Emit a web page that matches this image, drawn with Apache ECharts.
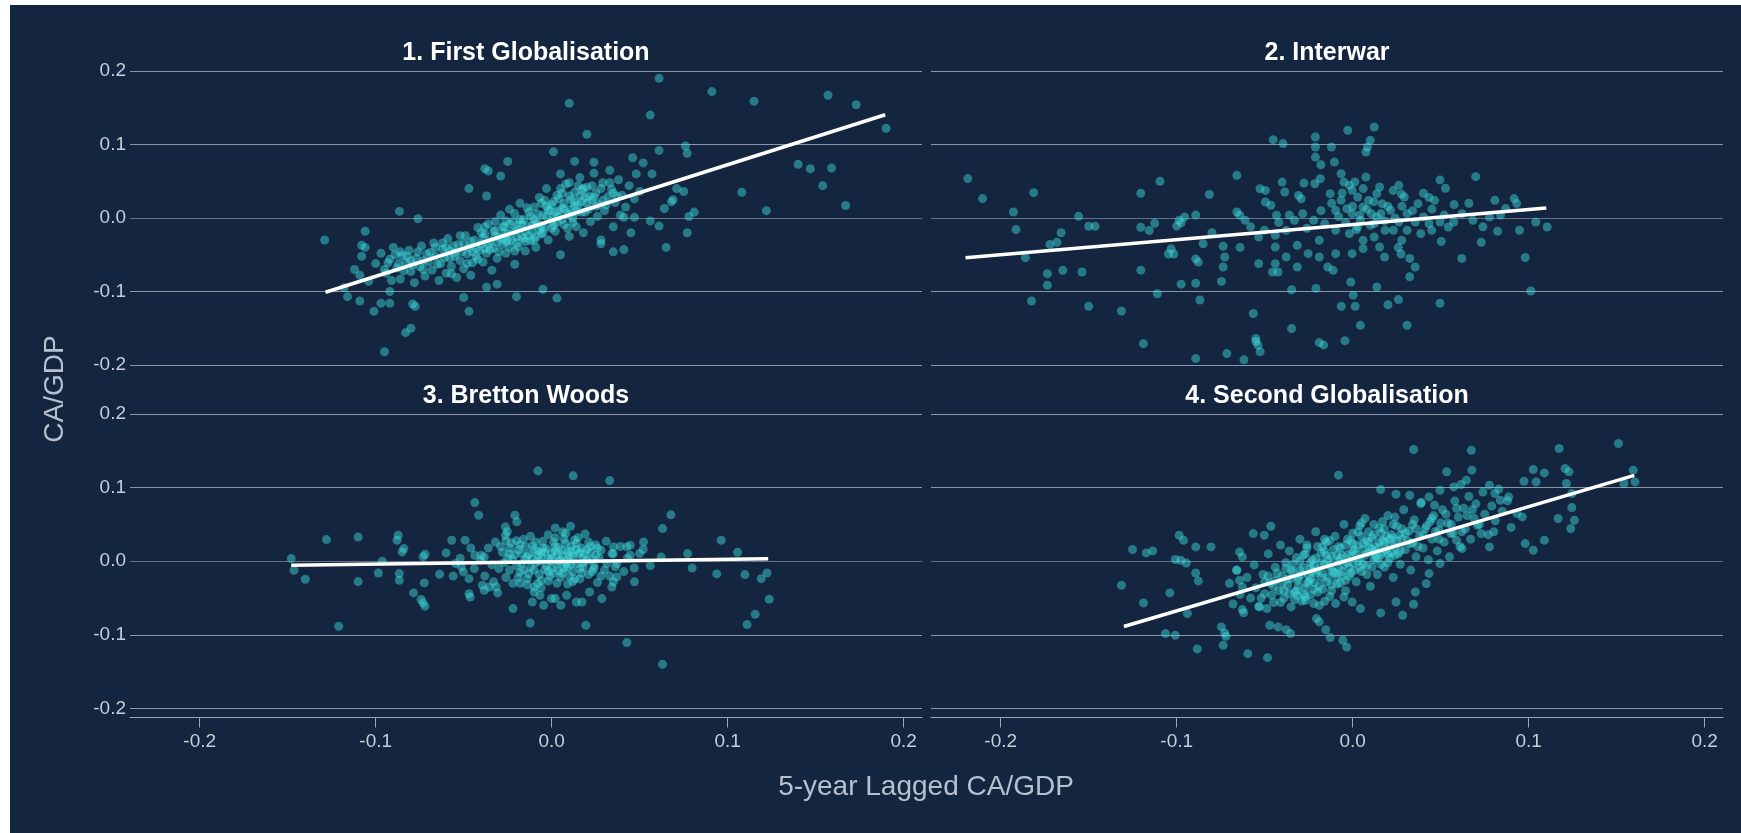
<!DOCTYPE html>
<html>
<head>
<meta charset="utf-8">
<script src="https://cdn.jsdelivr.net/npm/echarts@6.0.0/dist/echarts.min.js"></script>
<style>
  html, body { margin: 0; padding: 0; background: #ffffff; }
  #chart { position: absolute; left: 10px; top: 5px; width: 1731px; height: 828px; background: #13253f; }
</style>
</head>
<body>
<div id="chart"></div>
<script>
// facet titles + shared ticks
var panelTitles = ['1. First Globalisation', '2. Interwar', '3. Bretton Woods', '4. Second Globalisation']
var xTicks = [-0.2, -0.1, 0, 0.1, 0.2]
var xRange = [-0.2396, 0.2104]
var yRange = [-0.2, 0.2]

// [5-year lagged CA/GDP, CA/GDP]
var firstGlob = [
  [-0.129,-0.030],[-0.106,-0.018],[-0.108,-0.037],[-0.109,-0.078],[-0.116,-0.107],[-0.109,-0.113],[-0.101,-0.127],[-0.097,-0.116],
  [-0.092,-0.116],[-0.095,-0.182],[-0.083,-0.156],[-0.080,-0.150],[-0.0865,0.009],[-0.076,-0.001],[-0.079,-0.117],[-0.0775,-0.120],
  [-0.092,-0.100],[-0.047,-0.127],[-0.050,-0.108],[-0.037,-0.094],[-0.031,-0.090],[-0.020,-0.107],[-0.005,-0.097],[0.003,-0.109],
  [-0.047,0.040],[-0.038,0.067],[-0.036,0.064],[-0.029,0.057],[-0.025,0.077],[-0.037,0.030],[0.001,0.090],[0.010,0.156],
  [0.020,0.114],[0.013,0.077],[0.024,0.076],[0.005,0.060],[0.010,0.048],
  [0.061,0.190],[0.091,0.172],[0.115,0.159],[0.157,0.167],[0.173,0.154],[0.190,0.122],[0.056,0.140],[0.061,0.092],
  [0.076,0.098],[0.077,0.088],[0.140,0.073],[0.147,0.067],[0.159,0.068],[0.154,0.044],[0.167,0.017],[0.108,0.035],
  [0.122,0.010],[0.077,-0.020],[0.065,-0.040],[0.035,-0.046],[0.041,-0.043],[0.061,-0.011],[0.056,-0.004],[0.078,0.002],
  [0.081,0.008],[0.068,0.022],[0.069,0.025],[0.071,0.040],[0.075,0.036],[0.064,0.013],[0.047,0.001],[0.041,0.001],
  [0.046,0.082],[0.052,0.075],[0.057,0.060],[0.028,-0.035],
  [-0.112,-0.070],[-0.108,-0.052],[-0.104,-0.086],[-0.118,-0.095],[-0.106,-0.040],
  [-0.100,-0.062],[-0.097,-0.048],[-0.094,-0.075],[-0.092,-0.056],[-0.090,-0.040],[-0.088,-0.068],[-0.086,-0.083],[-0.085,-0.051],
  [-0.083,-0.061],[-0.081,-0.044],[-0.080,-0.073],[-0.078,-0.088],[-0.077,-0.055],[-0.075,-0.066],[-0.074,-0.038],[-0.072,-0.079],
  [-0.071,-0.049],[-0.070,-0.060],
  [-0.068,-0.071],[-0.067,-0.034],[-0.066,-0.052],[-0.064,-0.085],[-0.063,-0.062],[-0.062,-0.043],[-0.060,-0.075],[-0.059,-0.028],
  [-0.058,-0.055],[-0.057,-0.066],[-0.055,-0.047],[-0.054,-0.081],[-0.053,-0.036],[-0.052,-0.058],[-0.050,-0.069],[-0.049,-0.024],
  [-0.048,-0.049],[-0.047,-0.040],[-0.046,-0.078],[-0.045,-0.061],[-0.044,-0.030],[-0.043,-0.052],[-0.042,-0.013],[-0.041,-0.044],
  [-0.040,-0.035],[-0.039,-0.060],[-0.038,-0.022],[-0.037,-0.048],[-0.036,-0.008],[-0.035,-0.031],[-0.034,-0.071],[-0.033,-0.041],
  [-0.032,-0.017],[-0.031,-0.055],[-0.030,-0.026],[-0.029,0.004],[-0.028,-0.036],[-0.027,-0.012],[-0.026,-0.048],[-0.025,-0.021],
  [-0.024,0.012],[-0.023,-0.030],[-0.022,-0.005],[-0.021,-0.063],[-0.020,-0.016],[-0.019,-0.039],[-0.018,0.020],[-0.017,-0.025],
  [-0.016,-0.002],[-0.015,-0.045],[-0.014,-0.011],[-0.013,0.008],[-0.012,-0.031],[-0.011,-0.019],
  [-0.010,0.015],[-0.009,-0.040],[-0.008,-0.006],[-0.007,0.028],[-0.006,-0.022],[-0.005,0.004],[-0.004,-0.013],[-0.003,0.040],
  [-0.002,-0.030],[-0.001,0.010],[0.000,-0.004],[0.001,0.022],[0.002,-0.018],[0.003,0.031],[0.004,0.002],[0.005,-0.050],
  [0.006,0.014],[0.007,-0.009],[0.008,0.046],[0.009,0.006],[0.010,-0.025],[0.011,0.025],[0.012,0.000],[0.013,0.035],
  [0.014,-0.012],[0.015,0.018],[0.016,0.055],[0.017,0.008],[0.018,-0.020],[0.019,0.028],
  [0.020,0.042],[0.021,0.012],[0.022,-0.005],[0.023,0.024],[0.024,0.061],[0.025,0.034],[0.026,0.002],[0.027,0.018],
  [0.028,-0.030],[0.029,0.048],[0.030,0.010],[0.032,0.029],[0.033,0.065],[0.034,0.039],[0.035,-0.012],[0.036,0.021],
  [0.038,0.052],[0.039,0.004],[0.040,0.031],[0.042,0.015],[0.044,0.044],[0.045,-0.020],[0.047,0.026],[0.048,0.060],[0.050,0.036],
  [-0.026,-0.004],[-0.021,0.006],[-0.016,-0.028],[-0.012,0.002],[-0.007,-0.016],[-0.003,0.016],[0.002,0.008],[0.006,-0.002],
  [0.011,0.012],[0.016,0.030],[-0.033,-0.018],[-0.028,-0.028],[-0.019,-0.010],[-0.009,-0.008],[0.003,-0.006],[0.013,0.022],
  [-0.095,-0.070],[-0.091,-0.085],[-0.089,-0.050],[-0.087,-0.062],[-0.084,-0.072],[-0.082,-0.052],[-0.079,-0.064],[-0.076,-0.046],
  [-0.073,-0.058],[-0.069,-0.047],[-0.065,-0.063],[-0.061,-0.054],[-0.056,-0.038],[-0.051,-0.046],[-0.046,-0.032],[-0.043,-0.041],
  [-0.039,-0.027],[-0.035,-0.043],[-0.031,-0.033],[-0.027,-0.020],[-0.024,-0.040],[-0.020,-0.026],[-0.017,-0.008],[-0.013,-0.024],
  [-0.010,-0.002],[-0.006,-0.011],[-0.003,0.002],[0.000,0.018],[0.004,0.010],[0.007,0.020],[0.010,0.004],[0.013,0.016],
  [0.017,0.022],[0.021,0.030],[0.025,0.016],[0.029,0.024],[0.033,0.048],[0.037,0.030],[-0.038,-0.012],[-0.032,-0.005],
  [-0.026,-0.032],[-0.021,-0.045],[-0.015,-0.018],[-0.009,-0.026],[-0.004,0.024],[0.001,-0.010],[0.006,0.034],[0.012,-0.006],
  [0.018,0.040],[0.023,0.044],[-0.062,-0.034],[-0.057,-0.076],[-0.052,-0.024],[-0.048,-0.062],[-0.058,-0.045],[-0.066,-0.040],
  [-0.073,-0.070],[-0.080,-0.058],[-0.086,-0.046],[-0.093,-0.061],
  [-0.060,-0.040],[-0.055,-0.052],[-0.050,-0.035],[-0.045,-0.046],[-0.040,-0.020],[-0.036,-0.036],[-0.032,-0.025],[-0.028,-0.012],
  [-0.025,-0.030],[-0.022,-0.018],[-0.018,-0.002],[-0.015,-0.032],[-0.011,-0.010],[-0.008,0.005],[-0.005,-0.020],[-0.002,0.012],
  [0.001,0.002],[0.004,0.026],[0.007,0.012],[0.010,0.030],[0.014,0.008],[0.017,0.038],[0.020,0.020],[0.024,0.028],
  [0.028,0.040],[0.031,0.018],[0.035,0.034],[-0.042,-0.056],[-0.038,-0.042],[-0.030,-0.046],[-0.024,-0.008],[-0.020,-0.034],
  [-0.014,0.014],[-0.010,-0.030],[-0.006,0.020],[0.000,-0.014],[0.005,0.040],[0.009,-0.014],[0.015,0.044],[0.019,0.008]
]

var interwar = [
  [-0.2187,0.0536],[-0.2103,0.0264],[-0.1928,0.0082],[-0.1913,-0.0158],[-0.1813,0.0345],[-0.186,-0.054],[-0.172,-0.036],[-0.1657,-0.020],
  [-0.1735,-0.0757],[-0.1647,-0.0712],[-0.1538,-0.0734],[-0.1735,-0.0916],[-0.1825,-0.113],[-0.150,-0.120],[-0.1314,-0.1265],[-0.1557,0.0023],
  [-0.150,-0.0113],[-0.1464,-0.0113],[-0.168,-0.033],[-0.1204,0.0336],[-0.1095,0.050],[-0.0814,0.032],[-0.0658,0.058],[-0.1204,-0.0127],
  [-0.1125,-0.0073],[-0.1156,-0.017],[-0.0986,-0.003],[-0.0955,0.0015],[-0.0892,0.004],[-0.100,-0.011],[-0.0975,-0.0067],[-0.1204,-0.071],
  [-0.111,-0.103],[-0.0975,-0.090],[-0.0892,-0.0887],[-0.0868,-0.1116],[-0.0746,-0.0863],[-0.1032,-0.042],[-0.1016,-0.049],[-0.1047,-0.049],
  [-0.0892,-0.0557],[-0.0877,-0.060],[-0.0736,-0.0385],[-0.0727,-0.053],[-0.0736,-0.0666],[-0.0565,-0.130],[-0.1189,-0.171],[-0.0892,-0.1913],
  [-0.0715,-0.1845],[-0.0618,-0.193],[-0.055,-0.164],[-0.0538,-0.173],[-0.0526,-0.182],[-0.055,-0.168],[-0.0347,-0.1505],[-0.019,-0.1695],
  [-0.0165,-0.1727],[-0.0044,-0.167],[0.0044,-0.146],[0.0309,-0.146],[-0.0065,-0.120],[0.0014,-0.120],[0.0137,-0.0939],[-0.0011,-0.087],
  [0.0003,-0.105],[0.020,-0.118],[0.026,-0.111],[0.0496,-0.116],[-0.0347,-0.0976],[-0.0209,-0.0958],[-0.0456,-0.0734],[-0.0424,-0.0734],
  [-0.0142,-0.0666],[-0.0111,-0.0712],[0.0324,-0.080],[0.0355,-0.0666],[0.0324,-0.055],[0.0259,-0.0403],[0.0275,-0.049],[0.0181,-0.053],
  [0.062,-0.055],[0.073,-0.033],[0.0503,-0.032],[0.0823,-0.018],[0.0948,-0.0167],[0.104,-0.0055],[0.1105,-0.0123],[0.098,-0.0537],
  [0.1012,-0.0993],[0.0917,0.0264],[0.0932,0.0196],[0.0869,0.0128],[0.0699,0.0562],[0.0496,0.0518],[0.0527,0.0404],[0.0576,0.0182],
  [0.0402,0.0336],[0.0433,0.028],[0.0277,0.0327],[0.023,0.0373],[0.0122,0.1238],[0.0100,0.1057],[0.0084,0.0966],[0.0075,0.0898],
  [-0.0028,0.1193],[-0.0212,0.1102],[-0.0121,0.0966],[-0.0452,0.1066],[-0.0396,0.1012],[-0.0212,0.0966],[-0.0212,0.0829],[-0.0181,0.0725],
  [-0.0104,0.0761],[-0.0066,0.0602],[-0.0050,0.0489],[-0.0019,0.0444],[-0.0184,0.0534],[-0.0215,0.0466],[-0.0277,0.0475],[-0.0401,0.0489],
  [-0.0386,0.0353],[-0.0527,0.0398],[-0.0496,0.0375],[-0.0308,0.0307],[-0.0293,0.0262],[-0.0658,0.0082],[-0.0642,0.0037],[-0.0611,-0.0031],
  [-0.0496,0.0218],[-0.0465,0.0173],[-0.0433,0.0037],
  [0.0106,0.0059],[0.0044,-0.0032],[-0.0003,0.0059],[0.0059,0.015],[0.0137,0.0014],[0.0028,-0.0122],[-0.0034,0.0127],[0.009,0.024],
  [0.0168,0.0195],[0.0215,0.0104],[0.0262,-0.0054],[0.0309,0.0059],[0.0356,-0.0054],[0.0402,0.0014],[0.0449,-0.0168],[0.0496,-0.0054],
  [0.0543,-0.0122],[0.0574,-0.0054],[0.0184,-0.0168],[0.0122,-0.0258],[0.0059,-0.0304],[-0.0019,-0.0213],[-0.0097,-0.0168],[-0.0159,-0.0077],
  [-0.0222,-0.0032],[-0.0284,0.0059],[-0.0331,-0.0032],[-0.0378,-0.0168],[-0.044,-0.0236],[-0.0502,-0.0168],[-0.0534,-0.0258],[-0.044,-0.0395],
  [-0.0315,-0.0372],[-0.019,-0.0304],[-0.0253,-0.0485],[-0.0378,-0.0531],[-0.0534,-0.0621],[-0.044,-0.0621],[-0.0315,-0.0667],[-0.019,-0.0531],
  [-0.0097,-0.0485],[-0.0003,-0.0485],[0.0059,-0.0417],[0.0153,-0.0395],[0.0278,-0.0304],[0.0387,-0.0213],
  [-0.0066,0.024],[0.0028,0.0286],[0.0137,0.0331],[-0.0003,0.0376],[-0.0128,0.0331],[-0.0097,0.0104],[0.0122,-0.0077],[0.0231,-0.0168],
  [0.0309,-0.0168],[0.0434,-0.0077],[0.0621,0.0059],[0.0683,-0.0032],[0.0777,0.0014],[0.0808,0.024],[0.0371,0.0195],[0.0465,0.024],
  [0.0012,0.049],[0.0075,0.0558],[0.0153,0.0422],[0.0262,0.0444],[0.0293,0.0286],
  [0.000,0.016],[0.004,0.004],[0.008,0.012],[0.012,0.022],[0.016,0.006],[0.020,0.016],[0.024,0.000],[-0.004,-0.006],
  [-0.008,0.002],[0.002,-0.016],[0.010,-0.010],[0.018,-0.004],[0.028,0.016],[0.034,0.010],[-0.012,0.020],[-0.018,0.010],
  [-0.006,0.034],[0.006,0.040],[-0.026,-0.014],[-0.036,0.004],[-0.042,-0.006],[-0.058,-0.012],[-0.064,-0.040],[-0.080,-0.020],
  [-0.085,-0.035],[0.045,0.012],[0.052,0.004],[0.066,0.020],[0.074,-0.012],[0.084,0.004]
]

var bretton = [
  [-0.148,0.0036],[-0.1464,-0.0122],[-0.140,-0.0245],[-0.128,0.0294],[-0.110,0.033],[-0.121,-0.0883],[-0.0985,-0.0159],[-0.110,-0.0276],
  [-0.0963,0.0],[-0.0872,0.0353],[-0.0879,0.0285],[-0.084,0.0172],[-0.085,0.0127],[-0.0866,-0.0168],[-0.0866,-0.0258],[-0.0785,-0.043],
  [-0.0742,-0.052],[-0.0731,-0.0566],[-0.072,-0.061],[-0.0724,-0.0294],[-0.072,0.0095],[-0.0731,0.006],[-0.0637,-0.0177],[-0.060,0.0113],
  [-0.0568,0.0285],[-0.0492,0.0285],[-0.0546,-0.003],[-0.0513,-0.0077],[-0.0502,-0.0145],[-0.0437,0.0797],[-0.0415,0.0625],[-0.047,-0.0236],
  [-0.047,-0.044],[-0.0463,-0.0485],[-0.0437,0.0082],[-0.0405,0.0014],[-0.0383,0.0059],[-0.0394,-0.0326],[-0.0383,-0.0394],[-0.0355,-0.0349],
  [-0.0307,-0.043],[-0.0315,-0.0349],[-0.0263,0.0467],[-0.0209,0.0625],[-0.0198,0.0535],[-0.0263,0.0353],[-0.0252,0.040],[-0.022,-0.0643],
  [-0.0122,-0.0838],[-0.0078,0.1228],[0.0122,0.116],[0.0194,-0.087],[0.0052,-0.0598],[-0.0002,-0.0507],[-0.0067,-0.0462],[-0.010,-0.0417],
  [-0.011,-0.0553],[-0.0046,-0.0598],[0.002,-0.0507],[0.0085,-0.0462],[0.014,-0.0553],[0.0172,-0.0553],[0.0215,-0.0417],[0.002,0.0453],
  [0.0107,0.0476],[0.0063,0.040],
  [0.0329,0.1096],[0.0677,0.0630],[0.0630,0.0444],[0.0522,0.0263],[0.0446,0.0217],[0.0427,0.0195],[0.0351,0.0195],[0.0342,0.0104],
  [0.0499,0.0104],[0.0446,0.0082],[0.0622,0.0059],[0.0772,0.0104],[0.0798,-0.0091],[0.0469,-0.0091],[0.0963,0.0285],[0.1056,0.0122],
  [0.0938,-0.0172],[0.1098,-0.0181],[0.119,-0.0236],[0.1223,-0.0159],[0.1236,-0.0516],[0.1156,-0.072],[0.111,-0.086],[0.0427,-0.1105],
  [0.063,-0.140],[0.037,-0.0213],[0.0351,-0.0281],[0.0342,-0.0349],[0.0285,-0.0507],[0.0361,-0.0077],[0.0314,-0.0032],
  [-0.030,-0.010],[-0.028,0.012],[-0.026,-0.022],[-0.025,0.004],[-0.023,0.025],[-0.022,-0.030],[-0.020,-0.006],[-0.019,0.016],
  [-0.018,-0.015],[-0.016,0.030],[-0.015,0.002],[-0.014,-0.024],[-0.013,0.010],[-0.012,-0.008],[-0.011,0.021],[-0.010,-0.035],
  [-0.009,-0.002],[-0.008,0.014],[-0.007,-0.018],[-0.006,0.006],[-0.005,0.027],[-0.004,-0.011],[-0.003,0.017],[-0.002,-0.027],
  [-0.001,0.001],[0.000,0.011],[0.001,-0.016],[0.002,0.032],[0.003,-0.004],[0.004,0.019],[0.005,-0.022],[0.006,0.008],
  [0.007,-0.010],[0.008,0.024],[0.009,-0.031],[0.010,0.003],[0.011,0.014],[0.012,-0.014],[0.013,0.029],[0.014,-0.003],
  [0.015,0.009],[0.016,-0.024],[0.017,0.018],[0.018,-0.008],[0.019,0.037],[0.020,0.001],[0.021,-0.018],[0.022,0.012],
  [0.024,-0.006],[0.025,0.022],[0.026,-0.029],[0.027,0.005],[0.028,0.015],[0.030,-0.012],
  [-0.040,0.008],[-0.038,-0.020],[-0.036,0.018],[-0.034,-0.005],[-0.033,-0.028],[-0.032,0.026],[0.031,0.027],[0.033,-0.020],
  [0.035,0.010],[0.037,-0.003],[0.039,0.020],[0.041,-0.014],
  [-0.027,-0.002],[-0.024,0.018],[-0.021,0.009],[-0.017,-0.003],[-0.013,-0.017],[-0.011,0.004],[-0.009,0.026],[-0.006,-0.026],
  [-0.004,0.012],[-0.002,0.004],[0.000,-0.009],[0.002,0.020],[0.004,-0.013],[0.006,0.015],[0.008,0.000],[0.010,-0.020],
  [0.012,0.007],[0.014,0.024],[0.016,-0.010],[0.018,0.004],[0.020,0.016],[0.023,-0.014],[0.025,0.008],[-0.019,-0.022],
  [-0.015,0.020],[-0.007,0.000],[0.003,0.009],[0.009,0.013],[-0.001,-0.020],[0.011,-0.004],
  [-0.029,0.020],[-0.026,0.028],[-0.024,-0.012],[-0.020,0.028],[-0.017,0.010],[-0.014,-0.032],[-0.010,0.016],[-0.008,-0.030],
  [-0.005,0.018],[-0.003,-0.006],[0.001,0.026],[0.003,-0.030],[0.005,0.002],[0.007,0.030],[0.009,-0.008],[0.011,0.020],
  [0.013,-0.024],[0.015,0.032],[0.017,-0.016],[0.019,0.010],[0.021,0.026],[0.023,0.002],[0.026,0.018],[0.028,-0.020],
  [-0.012,0.034],[-0.002,0.036],[0.008,0.038],[-0.018,-0.030],[-0.006,-0.036],[0.004,0.000],[-0.044,-0.010],[-0.046,0.018],
  [-0.052,0.004],[-0.056,-0.020],[0.043,0.004],[0.047,-0.028],[0.052,0.016],[0.056,-0.006],
  [-0.022,0.002],[-0.018,0.022],[-0.014,0.006],[-0.010,-0.012],[-0.006,0.012],[-0.002,-0.014],[0.002,0.014],[0.006,-0.016],
  [0.010,0.008],[0.014,0.016],[0.018,-0.002],[0.022,0.020],[-0.016,-0.012],[-0.008,0.008],[0.000,0.004],[0.008,-0.004],
  [0.016,0.012],[-0.024,0.010],[0.024,-0.010],[0.012,-0.028]
]

var secondGlob = [
  [-0.1314,-0.0326],[-0.1251,0.0159],[-0.1173,0.0113],[-0.1136,0.014],[-0.1189,-0.0566],[-0.1064,-0.0983],[-0.1008,-0.1006],[-0.0986,0.0353],
  [-0.0961,0.0285],[-0.1008,0.0023],[-0.0977,0.0014],[-0.0945,-0.0023],[-0.0892,0.0195],[-0.0805,0.0195],[-0.0892,-0.0159],[-0.0877,-0.0267],
  [-0.1039,-0.043],[-0.0939,-0.0711],[-0.0883,-0.1191],[-0.0746,-0.0892],[-0.0727,-0.0974],[-0.072,-0.1019],[-0.0736,-0.1142],[-0.0596,-0.1255],
  [-0.0484,-0.1309],[-0.0627,-0.0657],[-0.0534,-0.0612],[-0.0487,-0.0643],[-0.0471,-0.087],[-0.0424,-0.0892],[-0.0378,-0.0929],[-0.0353,-0.0983],
  [-0.0206,-0.0779],[-0.019,-0.0824],[-0.0153,-0.0929],[-0.0128,-0.1037],[-0.0056,-0.1074],[-0.0034,-0.1164],[-0.0643,0.0127],[-0.0627,0.0059],
  [-0.0565,0.0376],[-0.0465,0.0476],[-0.0502,0.0353],[-0.0643,-0.0258],[-0.0627,-0.0349],[-0.0658,-0.0122],[-0.0315,-0.0462],[-0.0268,-0.053],
  [-0.0222,-0.0575],[-0.0159,-0.0544],[-0.0097,-0.0575],[-0.0081,0.1169],[0.0159,0.0974],[0.0346,0.1518],[0.0674,0.1508],[0.0534,0.1214],
  [0.0677,0.1237],[0.0646,0.1101],[0.0246,0.0911],[0.0324,0.0897],[0.0387,0.0784],[0.0434,0.0874],[0.0465,0.0761],[0.0496,0.0965],
  [0.0574,0.101],[0.0615,0.1042],[0.0777,0.1033],[0.0808,0.092],[0.0839,0.0829],[0.0886,0.0874],[0.0973,0.1087],[0.1026,0.1246],
  [0.1089,0.12],[0.1042,0.1078],[0.1173,0.1531],[0.1207,0.1259],[0.1229,0.1214],[0.1214,0.1056],[0.1245,0.092],[0.1245,0.0729],
  [0.126,0.0557],[0.1239,0.0444],[0.1167,0.058],[0.151,0.1599],[0.1594,0.1237],[0.1604,0.1078],[0.1541,0.1056],[0.1089,0.0285],
  [0.1026,0.015],[0.098,0.024],[0.0933,0.0648],[0.0964,0.0602],[0.0777,0.0195],[0.0802,0.0399],[0.0708,0.0489],[0.073,0.0376],
  [0.0558,0.0376],[0.059,0.0285],[0.0621,0.0172],[0.0496,-0.0032],[0.0434,-0.0168],[0.0418,-0.0304],[0.0356,-0.0417],[0.0346,-0.0584],
  [0.0284,-0.0734],[0.0246,-0.0553],[0.0159,-0.0702],[0.0044,-0.0643],[-0.0003,-0.0553],[-0.005,-0.0485],
  [-0.070,-0.030],[-0.068,-0.058],[-0.066,-0.012],[-0.064,-0.045],[-0.062,-0.070],[-0.060,-0.022],[-0.058,-0.050],[-0.056,-0.005],
  [-0.055,-0.036],[-0.053,-0.062],[-0.051,-0.018],[-0.050,-0.044],[-0.048,0.010],[-0.047,-0.030],[-0.045,-0.056],[-0.044,-0.008],
  [-0.042,-0.040],[-0.041,0.022],
  [-0.040,-0.020],[-0.039,-0.050],[-0.038,-0.002],[-0.037,-0.033],[-0.036,0.014],[-0.035,-0.062],[-0.034,-0.015],[-0.033,-0.042],
  [-0.032,0.005],[-0.031,-0.026],[-0.030,0.030],[-0.029,-0.054],[-0.028,-0.008],[-0.027,-0.036],[-0.026,0.018],[-0.025,-0.019],
  [-0.024,-0.046],[-0.023,0.002],[-0.022,-0.029],[-0.021,0.040],[-0.020,-0.012],[-0.019,-0.060],[-0.018,0.011],[-0.017,-0.038],
  [-0.016,-0.004],[-0.015,0.026],[-0.014,-0.022],[-0.013,-0.048],[-0.012,0.006],[-0.011,-0.015],
  [-0.010,0.034],[-0.009,-0.031],[-0.008,0.000],[-0.007,0.018],[-0.006,-0.020],[-0.005,0.050],[-0.004,-0.040],[-0.003,0.009],
  [-0.002,-0.009],[-0.001,0.028],[0.000,-0.002],[0.001,0.016],[0.002,-0.028],[0.003,0.040],[0.004,0.004],[0.005,-0.014],
  [0.006,0.024],[0.007,0.058],[0.008,-0.006],[0.009,0.012],[0.010,-0.034],[0.011,0.032],[0.012,0.002],[0.013,0.020],
  [0.014,-0.018],[0.015,0.045],[0.016,0.008],[0.017,0.028],[0.018,-0.008],[0.019,0.016],
  [0.020,0.062],[0.021,0.004],[0.022,0.036],[0.023,-0.022],[0.024,0.020],[0.025,0.048],[0.026,0.010],[0.027,-0.004],
  [0.028,0.030],[0.029,0.070],[0.030,0.016],[0.032,0.041],[0.033,-0.012],[0.034,0.025],[0.035,0.056],[0.036,0.006],
  [0.038,0.034],[0.039,0.080],[0.040,0.018],[0.042,0.048],[0.043,0.002],[0.045,0.030],[0.046,0.062],[0.048,0.014],[0.049,0.042],
  [0.051,0.070],[0.052,0.026],[0.054,0.052],[0.055,0.006],[0.057,0.038],[0.058,0.082],[0.060,0.060],[0.061,0.020],
  [0.063,0.072],[0.064,0.044],[0.066,0.088],[0.067,0.030],[0.069,0.058],[0.070,0.078],[0.072,0.050],[0.074,0.094],
  [0.075,0.064],[0.077,0.036],[0.079,0.075],[0.081,0.055],[0.083,0.098],[0.085,0.068],[0.088,0.082],[0.090,0.046],
  [-0.035,-0.024],[-0.030,-0.012],[-0.026,-0.030],[-0.022,-0.006],[-0.018,-0.022],[-0.014,0.002],[-0.010,-0.016],[-0.006,0.008],
  [-0.002,-0.020],[0.002,0.010],[0.006,-0.004],[0.010,0.018],[0.014,0.004],[0.018,0.026],[0.022,0.012],[-0.028,0.008],
  [-0.020,0.020],[-0.012,-0.032],[-0.004,0.022],[0.004,-0.008],[0.012,0.036],[0.020,-0.002],[0.028,0.044],[-0.032,-0.040],
  [-0.024,-0.010],[-0.016,0.014],[-0.008,-0.010],[0.000,0.014],[0.008,0.028],[0.016,-0.004],
  [-0.048,-0.020],[-0.045,-0.034],[-0.043,-0.016],[-0.040,-0.030],[-0.038,-0.010],[-0.036,-0.044],[-0.034,-0.004],[-0.031,-0.034],
  [-0.029,-0.018],[-0.027,0.010],[-0.025,-0.028],[-0.023,-0.014],[-0.021,0.004],[-0.019,-0.034],[-0.017,-0.016],[-0.015,0.008],
  [-0.013,-0.006],[-0.011,0.016],[-0.009,-0.022],[-0.007,0.004],[-0.005,-0.004],[-0.003,0.030],[-0.001,0.006],[0.001,-0.012],
  [0.003,0.022],[0.005,0.034],[0.007,0.008],[0.009,0.040],[0.011,0.016],[0.013,0.006],[0.015,0.026],[0.017,0.012],
  [0.019,0.034],[0.021,0.022],[0.023,0.050],[0.025,0.028],[0.027,0.014],[0.030,0.038],[0.033,0.024],[0.036,0.044],
  [0.040,0.036],[0.044,0.054],[0.047,0.040],[0.050,0.052],[0.053,0.064],[0.056,0.050],[0.059,0.072],[0.062,0.040],
  [0.065,0.062],[0.068,0.070],[-0.052,-0.050],[-0.050,-0.028],[-0.046,-0.046],[-0.041,-0.056],[-0.037,-0.024],[-0.033,-0.052],
  [-0.028,-0.044],[-0.024,-0.002],[-0.020,-0.042],[-0.016,0.030],[-0.012,-0.040],[-0.008,0.020],[-0.004,-0.026],[0.000,0.038],
  [0.004,0.048],[0.008,-0.018],[0.012,0.050],[0.016,0.038],[0.020,0.010],[0.024,0.060],
  [-0.044,-0.026],[-0.039,-0.040],[-0.035,-0.012],[-0.031,-0.022],[-0.027,-0.048],[-0.024,-0.024],[-0.021,-0.016],[-0.018,-0.002],
  [-0.015,-0.028],[-0.012,-0.012],[-0.009,0.008],[-0.006,-0.014],[-0.003,-0.002],[0.000,0.024],[0.003,0.000],[0.006,0.016],
  [0.009,0.026],[0.012,0.012],[0.015,0.018],[0.018,0.044],[0.021,0.030],[0.024,0.008],[0.027,0.036],[0.031,0.028],
  [0.034,0.050],[0.037,0.020],[0.041,0.044],[0.045,0.058],[0.049,0.030],[-0.030,0.000],[-0.026,0.022],[-0.022,-0.038],
  [-0.017,0.020],[-0.013,0.028],[-0.007,-0.030],[-0.001,-0.016],[0.005,0.052],[0.011,-0.008],[0.017,0.054],[0.023,0.032]
]

// fitted lines, end points
var firstLine = [[-0.1285, -0.101], [0.1895, 0.1405]]
var interwarLine = [[-0.220, -0.054], [0.110, 0.0137]]
var brettonLine = [[-0.148, -0.0056], [0.123, 0.0034]]
var secondLine = [[-0.130, -0.0886], [0.160, 0.1166]]

var scatterData = [firstGlob, interwar, bretton, secondGlob]
var lineData = [firstLine, interwarLine, brettonLine, secondLine]

var font = '"Liberation Sans", Arial, sans-serif'
var gridColor = '#8a95a7'
var zeroColor = '#627088'
var tickColor = '#c8ced8'

var grids = [
  {left: 120, top: 66, width: 792, height: 294},
  {left: 921, top: 66, width: 792, height: 294},
  {left: 120, top: 409, width: 792, height: 294.5},
  {left: 921, top: 409, width: 792, height: 294.5}
]

function fmt (v) {
  return Number(v).toFixed(1)
}

var series = []
scatterData.forEach(function (d, i) {
  series.push({
    type: 'scatter',
    xAxisIndex: i,
    yAxisIndex: i,
    data: d,
    symbolSize: 9,
    itemStyle: {color: 'rgba(64,224,224,0.57)'},
    silent: true
  })
})
lineData.forEach(function (d, i) {
  series.push({
    type: 'line',
    xAxisIndex: i,
    yAxisIndex: i,
    data: d,
    symbol: 'none',
    z: 5,
    lineStyle: {color: '#ffffff', width: 3.5},
    silent: true
  })
})

var graphics = panelTitles.map(function (t, i) {
  var g = grids[i]
  return {
    type: 'text',
    x: g.left + g.width / 2,
    y: g.top - 18,
    style: {
      text: t,
      fill: '#ffffff',
      font: 'bold 25px ' + font,
      textAlign: 'center',
      textVerticalAlign: 'middle'
    }
  }
})
graphics.push({
  type: 'text',
  x: 916,
  y: 782,
  style: {
    text: '5-year Lagged CA/GDP',
    fill: '#b7c0ce',
    font: '28px ' + font,
    textAlign: 'center',
    textVerticalAlign: 'middle'
  }
})
graphics.push({
  type: 'text',
  x: 45,
  y: 384,
  rotation: Math.PI / 2,
  style: {
    text: 'CA/GDP',
    fill: '#b7c0ce',
    font: '28px ' + font,
    textAlign: 'center',
    textVerticalAlign: 'middle'
  }
})

var options = {
  animation: false,
  grid: grids,
  xAxis: grids.map(function (g, i) {
    return {
      gridIndex: i,
      type: 'value',
      min: xRange[0],
      max: xRange[1],
      show: i >= 2,
      offset: 9,
      axisLine: {show: true, onZero: false, lineStyle: {color: '#9ba6b6', width: 1}},
      axisTick: {show: true, length: 10, customValues: xTicks, lineStyle: {color: '#9ba6b6'}},
      axisLabel: {customValues: xTicks, formatter: fmt, color: tickColor, fontSize: 19, fontFamily: font, margin: 15},
      splitLine: {show: false}
    }
  }),
  yAxis: grids.map(function (g, i) {
    return {
      gridIndex: i,
      type: 'value',
      min: yRange[0],
      max: yRange[1],
      interval: 0.1,
      axisLine: {show: false},
      axisTick: {show: false},
      axisLabel: {show: i % 2 === 0, formatter: fmt, color: tickColor, fontSize: 19, fontFamily: font, margin: 4},
      splitLine: {show: true, lineStyle: {color: [gridColor, gridColor, zeroColor, gridColor, gridColor], width: 1}}
    }
  }),
  graphic: graphics,
  series: series
}

var chart = echarts.init(document.getElementById('chart'))
chart.setOption(options)
</script>
</body>
</html>
